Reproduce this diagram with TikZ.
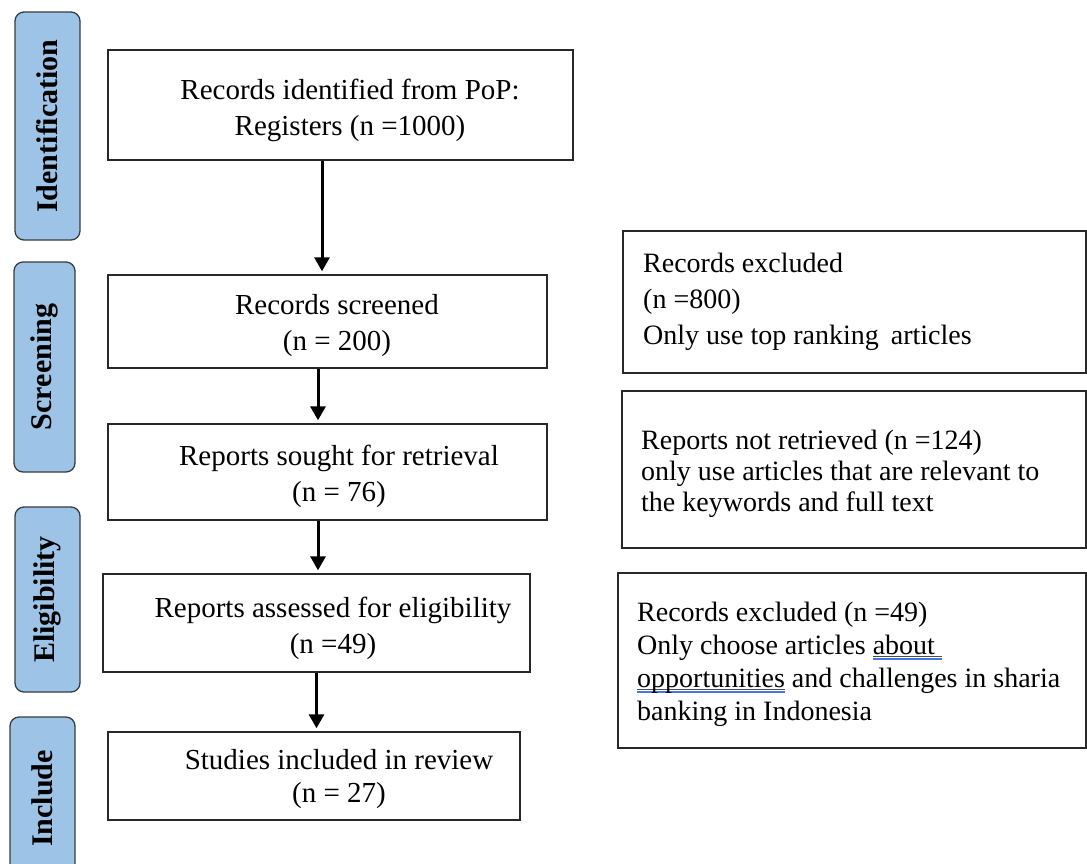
\documentclass[tikz,border=0pt]{standalone}
\usepackage{fontspec}
\setmainfont{Liberation Serif}
\usetikzlibrary{arrows.meta}
\definecolor{sidefill}{RGB}{157,195,230}
\definecolor{sideline}{RGB}{55,60,65}
\definecolor{boxline}{RGB}{40,40,40}
\definecolor{ulblue}{RGB}{70,120,225}
\newcommand\wavyul[1]{\setbox0=\hbox{#1}\rlap{\color{black!70}\rule[-2.5pt]{\wd0}{0.7pt}}\rlap{\color{ulblue}\rule[-6pt]{\wd0}{1.8pt}}\box0\relax}
\begin{document}
\begin{tikzpicture}[x=1pt,y=-1pt,
  sidebox/.style={draw=sideline, fill=sidefill, line width=1.3pt, rounded corners=9pt, rotate=90, inner sep=0pt,
    font=\bfseries\fontsize{30}{30}\selectfont},
  mainbox/.style={draw=boxline, line width=1.4pt, inner sep=0pt},
  maintext/.style={align=center, inner sep=0pt, font=\fontsize{29}{36}\selectfont},
  sidetext/.style={align=left, anchor=west, inner sep=0pt},
  arr/.style={draw=black, line width=3pt, -{Triangle[width=15pt,length=14pt]}, shorten >=3pt}
]
\useasboundingbox (0,0) rectangle (1087,863);
\clip (0,0) rectangle (1087,863);
\fill[white] (0,0) rectangle (1087,863);

% side labels
\node[sidebox, minimum width=228pt, minimum height=65pt] (sid) at (47.5,126) {Identification};
\node[sidebox, minimum width=210pt, minimum height=61pt] (sscr) at (44.5,367) {Screening};
\node[sidebox, minimum width=185pt, minimum height=65pt] (selg) at (47.5,599.5) {Eligibility};
\node[sidebox, minimum width=163pt, minimum height=65pt] (sinc) at (42.5,798.5) {Include};

% main boxes
\node[mainbox, minimum width=465pt, minimum height=110pt] (b1) at (340.5,105) {};
\node[mainbox, minimum width=439pt, minimum height=93pt] (b2) at (327.5,321.5) {};
\node[mainbox, minimum width=439pt, minimum height=96pt] (b3) at (327.5,472) {};
\node[mainbox, minimum width=427pt, minimum height=98pt] (b4) at (316.5,623) {};
\node[mainbox, minimum width=412pt, minimum height=88pt] (b5) at (314,776) {};

\node[maintext] (t1) at (350,110.5) {Records identified from PoP:\\Registers (n =1000)};
\node[maintext] (t2) at (337,325.5) {Records screened\\(n = 200)};
\node[maintext] (t3) at (339,476.5) {Reports sought for retrieval\\(n = 76)};
\node[maintext] (t4) at (333,628) {Reports assessed for eligibility\\(n =49)};
\node[maintext, font=\fontsize{29}{33}\selectfont] (t5) at (339,779) {Studies included in review\\(n = 27)};

% right boxes
\node[mainbox, minimum width=463pt, minimum height=142pt] (r1) at (854.5,302) {};
\node[mainbox, minimum width=464pt, minimum height=157pt] (r2) at (854,469.5) {};
\node[mainbox, minimum width=468pt, minimum height=175pt] (r3) at (852,660.5) {};

\node[sidetext, font=\fontsize{28}{36}\selectfont] (rt1) at (643,302) {Records excluded\\(n =800)\\Only use top ranking\hspace{5pt} articles};
\node[sidetext, font=\fontsize{28}{31}\selectfont] (rt2) at (641,474) {Reports not retrieved (n =124)\\only use articles that are relevant to\\the keywords and full text};
\node[sidetext, font=\fontsize{28}{33}\selectfont] (rt3) at (637,664) {Records excluded (n =49)\\Only choose articles \wavyul{about\ }\\\wavyul{opportunities} and challenges in sharia\\banking in Indonesia};

% arrows
\draw[arr] ([xshift=-18.5pt]b1.south) -- ([xshift=-18.5pt]b1.south |- b2.north);
\draw[arr] ([xshift=-9.5pt]b2.south) -- ([xshift=-9.5pt]b2.south |- b3.north);
\draw[arr] ([xshift=-9.5pt]b3.south) -- ([xshift=-9.5pt]b3.south |- b4.north);
\draw[arr] (b4.south) -- (b4.south |- b5.north);
\end{tikzpicture}
\end{document}
